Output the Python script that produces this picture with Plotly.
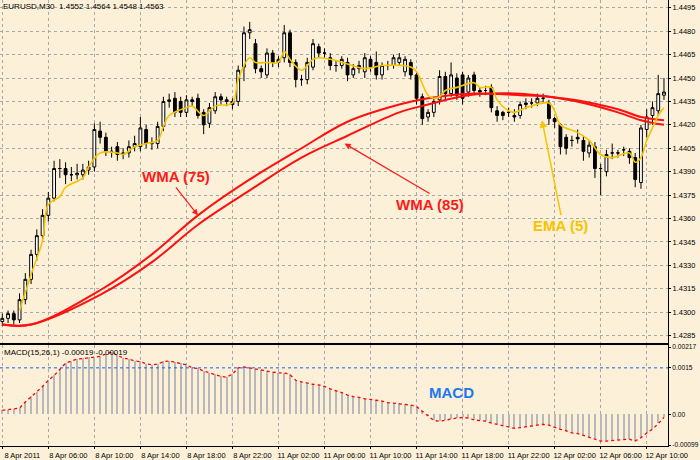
import plotly.graph_objects as go

# EURUSD M30 bars, 8 Apr 2011 02:00 .. 12 Apr 2011 ~11:30
# prices stored as (price - 0.9500) * 10000, i.e. 4794 -> 1.4294
o = [4794, 4796, 4799, 4795, 4808, 4821, 4837, 4849, 4862, 4873, 4892, 4892, 4888, 4888, 4888, 4891,
     4893, 4916, 4912, 4903, 4906, 4901, 4902, 4906, 4906, 4917, 4908, 4908, 4919, 4935, 4937, 4935,
     4928, 4936, 4937, 4928, 4921, 4929, 4938, 4936, 4935, 4935, 4957, 4979, 4972, 4956, 4952, 4966,
     4960, 4963, 4979, 4960, 4949, 4949, 4957, 4970, 4966, 4963, 4958, 4958, 4960, 4952, 4956, 4954,
     4962, 4960, 4952, 4958, 4958, 4960, 4954, 4960, 4952, 4938, 4925, 4928, 4936, 4951, 4940, 4950,
     4952, 4941, 4952, 4942, 4942, 4944, 4929, 4928, 4928, 4926, 4926, 4933, 4934, 4934, 4937, 4934,
     4924, 4920, 4912, 4910, 4912, 4910, 4902, 4906, 4892, 4890, 4902, 4902, 4904, 4903, 4899, 4883,
     4917, 4926, 4929, 4939]
c = [4796, 4799, 4795, 4808, 4821, 4837, 4849, 4862, 4873, 4892, 4892, 4888, 4888, 4889, 4891, 4893,
     4917, 4912, 4903, 4903, 4901, 4902, 4906, 4908, 4918, 4908, 4908, 4919, 4935, 4936, 4928, 4928,
     4936, 4935, 4926, 4920, 4931, 4938, 4936, 4935, 4933, 4955, 4979, 4981, 4956, 4954, 4966, 4960,
     4962, 4979, 4960, 4949, 4949, 4960, 4972, 4966, 4966, 4958, 4958, 4962, 4952, 4956, 4958, 4963,
     4957, 4952, 4958, 4958, 4963, 4963, 4962, 4952, 4937, 4924, 4928, 4935, 4951, 4940, 4952, 4939,
     4937, 4950, 4942, 4941, 4942, 4931, 4926, 4926, 4928, 4925, 4933, 4934, 4934, 4937, 4937, 4924,
     4922, 4906, 4905, 4910, 4911, 4903, 4907, 4892, 4892, 4901, 4902, 4902, 4904, 4899, 4885, 4918,
     4925, 4931, 4940, 4941]
h = [4799, 4801, 4801, 4812, 4825, 4840, 4853, 4866, 4877, 4897, 4898, 4896, 4893, 4895, 4895, 4897,
     4921, 4922, 4915, 4906, 4909, 4905, 4910, 4913, 4925, 4920, 4912, 4922, 4938, 4940, 4941, 4938,
     4939, 4938, 4940, 4930, 4934, 4941, 4940, 4938, 4937, 4958, 4983, 4986, 4975, 4958, 4969, 4968,
     4964, 4984, 4981, 4962, 4952, 4963, 4975, 4972, 4969, 4966, 4961, 4964, 4963, 4959, 4961, 4966,
     4964, 4967, 4960, 4961, 4965, 4966, 4964, 4962, 4954, 4940, 4930, 4938, 4955, 4954, 4960, 4953,
     4954, 4952, 4954, 4944, 4945, 4946, 4932, 4929, 4931, 4930, 4935, 4937, 4937, 4940, 4940, 4936,
     4925, 4921, 4914, 4913, 4917, 4913, 4910, 4909, 4895, 4904, 4908, 4904, 4906, 4905, 4902, 4920,
     4930, 4935, 4952, 4950]
l = [4791, 4793, 4792, 4793, 4805, 4818, 4833, 4845, 4858, 4871, 4886, 4882, 4884, 4885, 4885, 4888,
     4890, 4908, 4900, 4899, 4897, 4898, 4899, 4903, 4903, 4905, 4904, 4905, 4916, 4931, 4925, 4925,
     4925, 4932, 4924, 4914, 4918, 4927, 4933, 4932, 4930, 4932, 4948, 4975, 4953, 4950, 4950, 4957,
     4957, 4960, 4957, 4944, 4945, 4946, 4955, 4963, 4963, 4955, 4954, 4956, 4948, 4950, 4953, 4950,
     4954, 4949, 4949, 4955, 4956, 4958, 4951, 4949, 4933, 4920, 4922, 4925, 4933, 4936, 4938, 4936,
     4933, 4938, 4939, 4938, 4939, 4928, 4922, 4923, 4925, 4922, 4924, 4930, 4931, 4932, 4934, 4920,
     4918, 4901, 4901, 4906, 4908, 4897, 4899, 4886, 4875, 4887, 4898, 4899, 4900, 4895, 4880, 4879,
     4912, 4920, 4926, 4936]

ema_bars = [3, 5, 7, 8, 10, 11, 14, 15, 17, 20, 21, 23, 25, 27, 28, 29, 32, 33, 35, 37, 40, 41, 43, 44,
            46, 48, 49, 50, 52, 54, 55, 57, 60, 63, 66, 71, 72, 74, 75, 76, 77, 79, 82, 83, 85, 86, 88,
            89, 91, 95, 96, 97, 100, 102, 104, 106, 109, 110, 111, 112, 113, 114, 115]
ema5 = [4801, 4824, 4846, 4869, 4874, 4880, 4886, 4893, 4902, 4902, 4901, 4906, 4908, 4910, 4919, 4926,
        4931, 4932, 4926, 4932, 4934, 4949, 4963, 4960, 4960, 4960, 4967, 4962, 4955, 4962, 4963, 4962,
        4959, 4956, 4958, 4957, 4954, 4939, 4937, 4938, 4942, 4944, 4947, 4944, 4944, 4936, 4929, 4928,
        4931, 4934, 4929, 4920, 4915, 4910, 4901, 4899, 4902, 4896, 4899, 4910, 4918, 4926, 4931]

wma_bars = [0, 5, 17, 26, 34, 43, 52, 60, 69, 74, 81, 90, 95, 101, 107, 111, 115]
wma75 = [4792, 4792, 4814, 4837, 4862, 4885, 4905, 4922, 4933, 4937, 4940, 4939, 4938, 4934, 4928, 4923, 4920]
wma85 = [4792, 4792, 4811, 4832, 4856, 4878, 4899, 4913, 4928, 4933, 4939, 4940, 4938, 4935, 4930, 4925, 4923]

# MACD(15,26,1) in 1e-5 units
macd = [13, 15, 18, 20, 40, 57, 72, 90, 110, 125, 145, 165, 172, 178, 180, 183, 185, 187, 195, 200,
        190, 182, 178, 172, 170, 163, 160, 162, 170, 172, 168, 165, 160, 150, 148, 140, 134, 128, 122,
        120, 130, 150, 153, 150, 146, 142, 140, 136, 134, 134, 128, 110, 105, 100, 97, 95, 90, 82, 77,
        70, 62, 57, 55, 50, 48, 46, 43, 38, 36, 35, 32, 30, 25, 10, -5, -20, -22, -18, -15, -12, -10,
        -12, -18, -20, -22, -28, -32, -36, -42, -45, -43, -40, -38, -35, -32, -35, -42, -48, -53, -60,
        -62, -68, -73, -80, -86, -86, -84, -82, -80, -80, -86, -75, -60, -48, -30, -10]

tick_bars = list(range(0, 116, 8))
tick_text = ["8 Apr 2011", "8 Apr 06:00", "8 Apr 10:00", "8 Apr 14:00", "8 Apr 18:00", "8 Apr 22:00",
             "11 Apr 02:00", "11 Apr 06:00", "11 Apr 10:00", "11 Apr 14:00", "11 Apr 18:00",
             "11 Apr 22:00", "12 Apr 02:00", "12 Apr 06:00", "12 Apr 10:00"]

p = lambda v: [round(0.9500 + x / 10000, 4) for x in v]
bars = list(range(len(c)))
BG = "#FCF0D8"
FONT = "Liberation Sans"

fig = go.Figure()
fig.add_trace(go.Scatter(x=wma_bars, y=p(wma75), mode="lines", line=dict(color="#FF1010", width=2, shape="spline"),
                         hoverinfo="skip"))
fig.add_trace(go.Scatter(x=wma_bars, y=p(wma85), mode="lines", line=dict(color="#FF1010", width=2, shape="spline"),
                         hoverinfo="skip"))
fig.add_trace(go.Candlestick(x=bars, open=p(o), high=p(h), low=p(l), close=p(c), whiskerwidth=0,
                             increasing=dict(fillcolor="white", line=dict(color="black", width=1)),
                             decreasing=dict(fillcolor="black", line=dict(color="black", width=1))))
fig.add_trace(go.Scatter(x=ema_bars, y=p(ema5), mode="lines", line=dict(color="#F5C400", width=1.6, shape="spline"),
                         hoverinfo="skip"))
fig.add_trace(go.Bar(x=bars, y=[m / 1e5 for m in macd], width=0.18, marker=dict(color="#B8B8B8", line_width=0),
                     xaxis="x2", yaxis="y2"))
fig.add_trace(go.Scatter(x=bars, y=[m / 1e5 for m in macd], mode="lines", line=dict(color="#FF0000", width=1.3, dash="dot"),
                         xaxis="x2", yaxis="y2"))

grid = dict(showgrid=True, gridcolor="#A8A8A8", griddash="dot", gridwidth=1, zeroline=False, automargin=False)
xr = [-0.4, 115.7]
fig.update_layout(
    template="none",
    width=700, height=460, margin=dict(l=0, r=32, t=0, b=14, pad=0),
    paper_bgcolor=BG, plot_bgcolor=BG, showlegend=False, bargap=0,
    font=dict(family=FONT, size=7.5, color="black"),
    xaxis=dict(range=xr, domain=[0, 1], anchor="y", showticklabels=False, tickvals=tick_bars,
               rangeslider=dict(visible=False), showline=True, linecolor="black", mirror=True, **grid),
    yaxis=dict(domain=[0.232, 1], range=[1.42805, 1.4500], side="right", tickvals=[1.4285 + 0.0015 * k for k in range(15)],
               tickformat=".4f", ticks="outside", ticklen=2, tickcolor="black", showline=True, linecolor="black",
               mirror=True, **grid),
    xaxis2=dict(range=xr, domain=[0, 1], anchor="y2", tickvals=tick_bars, ticktext=tick_text, ticks="outside",
                ticklen=2, tickcolor="black", tickangle=0, ticklabelshift=20, showline=True, linecolor="black",
                mirror=True, **grid),
    yaxis2=dict(domain=[0, 0.226], range=[-0.00102, 0.00223], side="right", tickvals=[-0.00099, 0, 0.0015, 0.00217],
                ticktext=["-0.00099", "0.00", "0.0015", "0.00217"], ticks="outside", ticklen=2, tickcolor="black",
                tickfont=dict(size=6.6), showline=True, linecolor="black", mirror=True, showgrid=False,
                zeroline=False, automargin=False),
    shapes=[dict(type="line", xref="x2", yref="y2", x0=xr[0], x1=xr[1], y0=0.0015, y1=0.0015,
                 line=dict(color="#1060FF", width=1, dash="dot"))],
)

red = "#FF1A1A"
yel = "#F5C400"
fig.add_annotation(xref="paper", yref="paper", x=0.002, y=1, xanchor="left", yanchor="top", showarrow=False,
                   text="EURUSD,M30  1.4552 1.4564 1.4548 1.4563", font=dict(size=8))
fig.add_annotation(xref="x2", yref="paper", x=0, y=0.224, xanchor="left", yanchor="top", showarrow=False,
                   text="MACD(15,26,1) -0.00019 -0.00019", font=dict(size=8))
fig.add_annotation(xref="x2", yref="y2", x=78, y=0.0007, showarrow=False, text="<b>MACD</b>",
                   font=dict(size=15, color="#1E78F0", family="Liberation Sans"))
fig.add_annotation(x=34, y=1.4362, ax=-22, ay=-28, text="<b>WMA (75)</b>", showarrow=True, arrowhead=2,
                   arrowcolor=red, arrowwidth=1.2, font=dict(size=15, color=red, family="Liberation Sans"),
                   xanchor="center", yanchor="bottom")
fig.add_annotation(x=59.5, y=1.4408, ax=85, ay=50, text="<b>WMA (85)</b>", showarrow=True, arrowhead=2,
                   arrowcolor=red, arrowwidth=1.2, font=dict(size=15, color=red, family="Liberation Sans"),
                   xanchor="center", yanchor="top")
fig.add_annotation(x=93.8, y=1.4423, ax=19, ay=95, text="<b>EMA (5)</b>", showarrow=True, arrowhead=2,
                   arrowcolor=yel, arrowwidth=1.5, font=dict(size=15, color=yel, family="Liberation Sans"),
                   xanchor="center", yanchor="top")

fig.write_html("out.html", config={"displayModeBar": False},
               post_script="document.body.style.margin='0';document.body.style.overflow='hidden';")
